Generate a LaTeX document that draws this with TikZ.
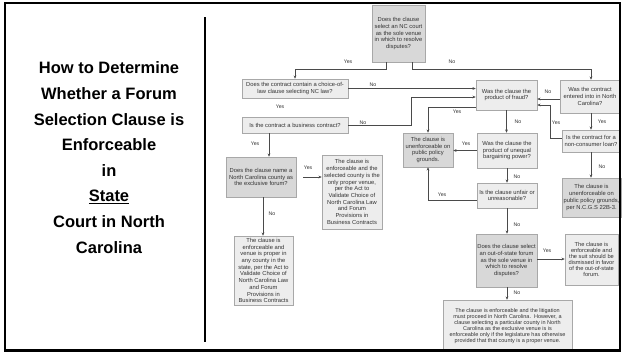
\documentclass[tikz,border=0pt]{standalone}
\usepackage{fontspec}
\setmainfont{Liberation Sans}
\usetikzlibrary{arrows.meta}
\definecolor{lightc}{HTML}{EDEDED}
\definecolor{darkc}{HTML}{D8D8D8}
\definecolor{bordc}{HTML}{A8A8A8}
\definecolor{linec}{HTML}{4A4A4A}
\definecolor{txtc}{HTML}{333333}
\tikzset{
  box/.style={draw=bordc, line width=0.6pt, fill=lightc, align=center, inner sep=0.8pt,
    text=txtc, font=\fontsize{5.8}{6.7}\selectfont},
  dbox/.style={box, fill=darkc},
  arr/.style={draw=linec, line width=0.6pt, -{Stealth[length=3.2pt,width=2.8pt]}},
  lbl/.style={text=txtc, font=\fontsize{5.2}{6}\selectfont, inner sep=0pt},
}
\begin{document}
\begin{tikzpicture}[x=1pt,y=-1pt]
\useasboundingbox (0,0) rectangle (623,354);
\fill[white] (0,0) rectangle (623,354);

% title
\node[align=center, inner sep=0pt, font=\fontsize{16.5}{25.6}\selectfont\bfseries] (title) at (109,157.5)
 {How to Determine\\Whether a Forum\\Selection Clause is\\Enforceable\\in\\\underline{State}\\Court in North\\Carolina};

% boxes
\node[dbox, minimum width=53, minimum height=57] (A) at (398.5,33.5)
 {Does the clause\\select an NC court\\as the sole venue\\in which to resolve\\disputes?};
\node[box, minimum width=106, minimum height=19] (B) at (295,88.5)
 {Does the contract contain a choice-of-\\law clause selecting NC law?};
\node[box, minimum width=106, minimum height=16] (C) at (295,125)
 {Is the contract a business contract?};
\node[box, minimum width=61, minimum height=30] (D) at (506.5,95)
 {Was the clause the\\product of fraud?};
\node[box, minimum width=60, minimum height=33] (E) at (590,96.5)
 {Was the contract\\entered into in North\\Carolina?};
\node[box, minimum width=58, minimum height=22] (F) at (591,141)
 {Is the contract for a\\non-consumer loan?};
\node[dbox, minimum width=59, minimum height=39] (G) at (591.5,197.5)
 {The clause is\\unenforceable on\\public policy grounds,\\per N.C.G.S 22B-3.};
\node[box, minimum width=53, minimum height=51, font=\fontsize{5.7}{5.9}\selectfont] (H) at (591.5,259.5)
 {The clause is\\enforceable and\\the suit should be\\dismissed in favor\\of the out-of-state\\forum.};
\node[dbox, minimum width=50, minimum height=34] (I) at (428,150)
 {The clause is\\unenforceable on\\public policy\\grounds.};
\node[box, minimum width=60, minimum height=35] (J) at (507,150.5)
 {Was the clause the\\product of unequal\\bargaining power?};
\node[box, minimum width=60, minimum height=25] (K) at (507,195.5)
 {Is the clause unfair or\\unreasonable?};
\node[dbox, minimum width=61, minimum height=53] (L) at (506.5,260.5)
 {Does the clause select\\an out-of-state forum\\as the sole venue in\\which to resolve\\disputes?};
\node[box, minimum width=129, minimum height=52, font=\fontsize{5.5}{5.9}\selectfont] (M) at (507.5,326)
 {The clause is enforceable and the litigation\\must proceed in North Carolina.\ \ However, a\\clause selecting a particular county in North\\Carolina as the exclusive venue is is\\enforceable only if the legislature has otherwise\\provided that that county is a proper venue.};
\node[dbox, minimum width=70, minimum height=40] (N) at (261,177)
 {Does the clause name a\\North Carolina county as\\the exclusive forum?};
\node[box, minimum width=60, minimum height=74] (O) at (352,192)
 {The clause is\\enforceable and the\\selected county is the\\only proper venue,\\per the Act to\\Validate Choice of\\North Carolina Law\\and Forum\\Provisions in\\Business Contracts};
\node[box, minimum width=59, minimum height=69, inner sep=0.2pt] (P) at (263.5,270.5)
 {The clause is\\enforceable and\\venue is proper in\\any county in the\\state, per the Act to\\Validate Choice of\\North Carolina Law\\and Forum\\Provisions in\\Business Contracts};

% connectors
\draw[arr] (A.south -| 386,0) -- ++(0,7) -| (B.north);
\draw[arr] (A.south -| 412,0) -- ++(0,7) -| (E.north -| 591,0);
\draw[arr] (B.east) -- (D.west |- B.east);
\draw[arr] (C.east) -| (411,97) -- (D.west |- 0,97);
\draw[arr] (C.south -| 269,0) -- (N.north -| 269,0);
\draw[arr] ([xshift=7pt]N.east) -- (O.west |- N.east);
\draw[arr] (N.south -| 263,0) -- (P.north -| 263,0);
\draw[arr] (E.west |- 0,99) -- (D.east |- 0,99);
\draw[arr] (E.south -| 591,0) -- (F.north -| 591,0);
\draw[arr] (F.west |- 0,138) -| (550,105) -- (D.east |- 0,105);
\draw[arr] (F.south -| 591,0) -- (G.north -| 591,0);
\draw[arr] (D.west |- 0,107) -| (I.north);
\draw[arr] (D.south) -- (D.south |- J.north);
\draw[arr] (J.west) -- (I.east |- J.west);
\draw[arr] (J.south) -- (K.north);
\draw[arr] (K.west |- 0,200) -| (I.south);
\draw[arr] (K.south) -- (K.south |- L.north);
\draw[arr] (L.east |- 0,259) -- (H.west |- 0,259);
\draw[arr] (L.south -| 507,0) -- (M.north -| 507,0);

% labels
\node[lbl] (l1) at (348,62) {Yes};
\node[lbl] (l2) at (452,62) {No};
\node[lbl] (l3) at (373,85) {No};
\node[lbl] (l4) at (280,107) {Yes};
\node[lbl] (l5) at (363,123) {No};
\node[lbl] (l6) at (255,144) {Yes};
\node[lbl] (l7) at (308,168) {Yes};
\node[lbl] (l8) at (272,214) {No};
\node[lbl] (l9) at (548,92) {No};
\node[lbl] (l10) at (602,122) {Yes};
\node[lbl] (l11) at (556,123) {Yes};
\node[lbl] (l12) at (602,167) {No};
\node[lbl] (l13) at (457,112) {Yes};
\node[lbl] (l14) at (518,122) {No};
\node[lbl] (l15) at (466,144) {Yes};
\node[lbl] (l16) at (517,177) {No};
\node[lbl] (l17) at (442,195) {Yes};
\node[lbl] (l18) at (517,225) {No};
\node[lbl] (l19) at (547,251) {Yes};
\node[lbl] (l20) at (517,293) {No};

% frame and separator
\fill[white] (0,351) rectangle (623,354);
\draw[line width=2.4pt] (5,3.2) rectangle (620,350.5);
\draw[line width=2pt] (205,17) -- (205,342);
\end{tikzpicture}
\end{document}
